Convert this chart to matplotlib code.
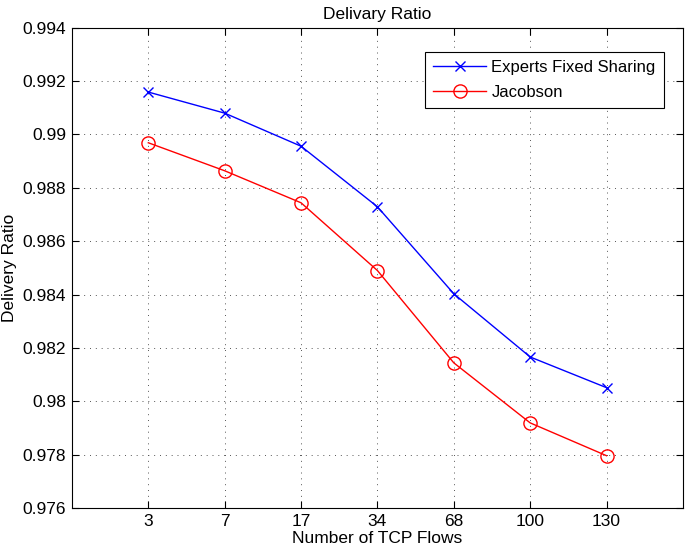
import matplotlib
matplotlib.use("Agg")
import matplotlib.pyplot as plt

plt.rcParams['font.family'] = ['Liberation Sans', 'DejaVu Sans']

flows = ['3', '7', '17', '34', '68', '100', '130']
experts = [0.99159, 0.9908, 0.98956, 0.98729, 0.98403, 0.98166, 0.98051]
jacobson = [0.98969, 0.98864, 0.98744, 0.9849, 0.98144, 0.97919, 0.97796]
yticks = [0.976, 0.978, 0.98, 0.982, 0.984, 0.986, 0.988, 0.99, 0.992, 0.994]
ylabels = ['0.976', '0.978', '0.98', '0.982', '0.984', '0.986', '0.988', '0.99', '0.992', '0.994']

fs = 12.5

fig = plt.figure(figsize=(6.85, 5.52), dpi=100)
ax = fig.add_axes([0.105, 0.0797, 0.892, 0.870])

pos = list(range(1, len(flows) + 1))
ax.plot(pos, experts, color='#0000ff', marker='x', markersize=6.5, linewidth=1,
        label='Experts Fixed Sharing')
ax.plot(pos, jacobson, color='#ff0000', marker='o', markersize=9.5,
        markerfacecolor='none', linewidth=1, label='Jacobson')

ax.set_xlim(0, 8)
ax.set_ylim(0.976, 0.994)
ax.set_xticks(pos)
ax.set_xticklabels(flows)
ax.set_yticks(yticks)
ax.set_yticklabels(ylabels)
ax.tick_params(direction='in', top=True, right=True, labelsize=fs, length=5, pad=4)
ax.grid(True, color='#555555', linestyle=(0, (1, 5)), linewidth=0.7)

ax.set_xlabel('Number of TCP Flows', fontsize=fs, labelpad=2)
ax.set_ylabel('Delivery Ratio', fontsize=fs, labelpad=4)
ax.set_title('Delivary Ratio', fontsize=fs, pad=6)

leg = ax.legend(loc='upper right', bbox_to_anchor=(0.969, 0.95), borderaxespad=0,
                fancybox=False, edgecolor='black', fontsize=12, handlelength=3.2,
                handletextpad=0.3, labelspacing=0.6, borderpad=0.5, framealpha=1)
leg.get_frame().set_linewidth(0.8)

fig.savefig('out.png', dpi=100)
